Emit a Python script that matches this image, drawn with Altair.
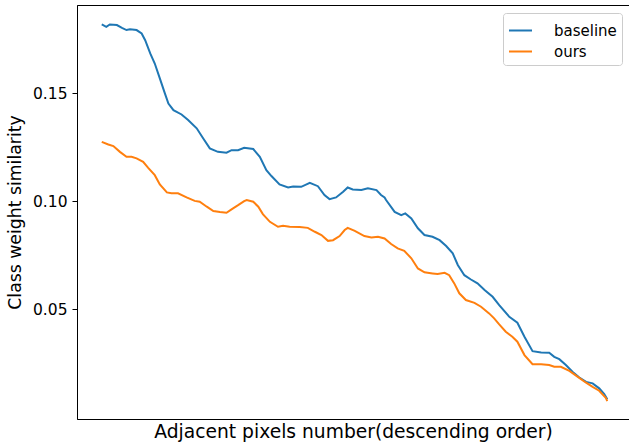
import altair as alt
import pandas as pd

# x positions (relative index along the descending order) and values
baseline_x = [0, 0.9, 1.6, 3.0, 4.0, 4.9, 5.6, 6.9, 7.9, 8.6, 9.6, 10.5, 11.5, 12.5, 13.2, 14.2,
              15.8, 17.1, 18.8, 20.1, 21.4, 23.0, 24.7, 25.7, 27.0, 28.2, 30.0, 31.3, 32.6, 33.6,
              35.2, 36.9, 37.9, 39.5, 41.2, 42.8, 44.1, 45.1, 46.4, 47.8, 48.7, 49.7, 51.4, 52.7,
              54.4, 55.3, 56.0, 56.3, 58.0, 59.3, 60.1, 61.3, 62.6, 63.9, 65.5, 66.9, 68.2, 69.5,
              70.5, 71.8, 73.1, 74.4, 75.8, 77.4, 78.7, 80.7, 82.3, 83.7, 85.3, 87.0, 88.6, 89.6,
              90.6, 91.9, 93.2, 94.5, 95.9, 97.2, 98.5, 99.5, 100.1]
baseline_y = [0.1819, 0.1808, 0.1819, 0.1816, 0.1803, 0.1793, 0.1797, 0.1793, 0.1777, 0.1746,
              0.1685, 0.1638, 0.1569, 0.1500, 0.1453, 0.1422, 0.1402, 0.1376, 0.1338, 0.1291,
              0.1245, 0.1229, 0.1225, 0.1237, 0.1237, 0.1248, 0.1242, 0.1206, 0.1144, 0.1117,
              0.1078, 0.1064, 0.1069, 0.1067, 0.1086, 0.1070, 0.1029, 0.1010, 0.1018, 0.1044,
              0.1064, 0.1055, 0.1052, 0.1060, 0.1052, 0.1029, 0.1018, 0.1006, 0.0951, 0.0936,
              0.0944, 0.0921, 0.0875, 0.0844, 0.0836, 0.0820, 0.0793, 0.0759, 0.0705, 0.0658,
              0.0638, 0.0620, 0.0589, 0.0558, 0.0519, 0.0465, 0.0438, 0.0373, 0.0306, 0.0300,
              0.0299, 0.0280, 0.0269, 0.0242, 0.0211, 0.0185, 0.0164, 0.0157, 0.0134, 0.0107,
              0.0083]

ours_x = [0, 1.3, 2.3, 3.6, 4.9, 5.9, 6.9, 8.2, 9.2, 10.5, 11.5, 12.9, 13.8, 15.1, 16.8, 18.4,
          19.4, 20.8, 22.1, 23.4, 24.7, 25.7, 27.0, 28.2, 28.7, 30.0, 31.0, 31.9, 33.3, 34.9,
          35.9, 37.2, 39.2, 40.8, 42.2, 43.5, 44.8, 45.8, 47.1, 48.1, 48.7, 50.1, 52.0, 53.4,
          54.7, 56.0, 57.3, 58.6, 59.9, 61.3, 62.6, 63.9, 65.5, 66.5, 67.9, 68.8, 69.8, 70.8,
          72.1, 73.8, 75.1, 76.7, 77.7, 78.7, 80.0, 81.3, 82.3, 83.7, 85.3, 87.0, 88.6, 89.6,
          90.9, 92.6, 94.2, 95.9, 97.2, 98.5, 99.8, 100.1]
ours_y = [0.1275, 0.1263, 0.1256, 0.1229, 0.1206, 0.1206, 0.1199, 0.1183, 0.1155, 0.1121,
          0.1078, 0.1041, 0.1037, 0.1037, 0.1018, 0.1002, 0.0998, 0.0975, 0.0955, 0.0950,
          0.0947, 0.0963, 0.0982, 0.1001, 0.1006, 0.0998, 0.0975, 0.0941, 0.0905, 0.0882,
          0.0887, 0.0882, 0.0881, 0.0877, 0.0859, 0.0844, 0.0817, 0.0820, 0.0839, 0.0867,
          0.0877, 0.0863, 0.0839, 0.0833, 0.0836, 0.0828, 0.0802, 0.0782, 0.0771, 0.0736,
          0.0689, 0.0671, 0.0666, 0.0663, 0.0669, 0.0658, 0.0620, 0.0574, 0.0543, 0.0530,
          0.0512, 0.0481, 0.0458, 0.0430, 0.0396, 0.0373, 0.0350, 0.0288, 0.0246, 0.0245,
          0.0242, 0.0234, 0.0234, 0.0215, 0.0188, 0.0160, 0.0141, 0.0123, 0.0090, 0.0075]

series_names = ["baseline", "ours"]
series_colors = ["#1f77b4", "#ff7f0e"]
y_ticks = [0.05, 0.10, 0.15]

df = pd.concat([
    pd.DataFrame({"x": baseline_x, "y": baseline_y, "series": series_names[0], "order": range(len(baseline_x))}),
    pd.DataFrame({"x": ours_x, "y": ours_y, "series": series_names[1], "order": range(len(ours_x))}),
])

FONT = "DejaVu Sans"

chart = alt.Chart(df).mark_line(strokeWidth=2).encode(
    x=alt.X("x:Q",
            scale=alt.Scale(domain=[-4.9, 104.4], nice=False, zero=False),
            axis=alt.Axis(title="Adjacent pixels number(descending order)", labels=False, ticks=False,
                          domain=False, grid=False, titleFont=FONT, titleFontSize=18.7,
                          titleFontWeight="normal", titleColor="black", titlePadding=3)),
    y=alt.Y("y:Q",
            scale=alt.Scale(domain=[-0.0008, 0.1909], nice=False, zero=False),
            axis=alt.Axis(title="Class weight similarity", values=y_ticks, format=".2f", grid=False,
                          tickSize=5, tickColor="black", tickWidth=1, domainColor="black",
                          labelFont=FONT, labelFontSize=15.5, labelColor="black", labelPadding=5,
                          titleFont=FONT, titleFontSize=17.3, titleFontWeight="normal",
                          titleColor="black", titlePadding=8)),
    color=alt.Color("series:N",
                    scale=alt.Scale(domain=series_names, range=series_colors),
                    legend=alt.Legend(title=None, orient="none", legendX=426, legendY=8,
                                      symbolType="stroke", symbolSize=529, symbolStrokeWidth=2,
                                      labelFont=FONT, labelFontSize=15, labelColor="black",
                                      fillColor="white", strokeColor="#cccccc", cornerRadius=3,
                                      padding=5, rowPadding=0, labelOffset=21)),
    order="order:Q",
).properties(
    width=552,
    height=414,
    background="white",
    padding={"left": 77, "top": 5, "right": 0, "bottom": 24},
    autosize=alt.AutoSizeParams(type="none"),
).configure_view(
    stroke="black", strokeWidth=1
)

chart.save("out.html", embed_options={"renderer": "svg", "actions": False})
